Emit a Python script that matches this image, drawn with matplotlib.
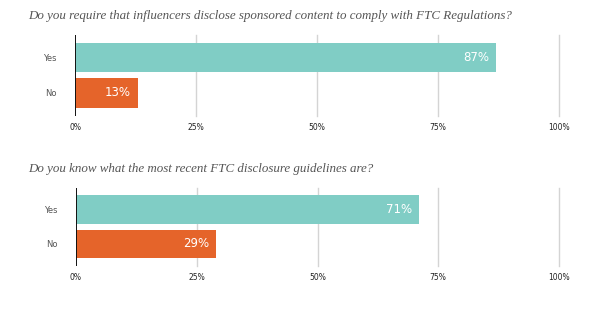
import matplotlib
matplotlib.use("Agg")
from matplotlib import pyplot as plt

# survey answers
categories = ['Yes', 'No']
titles = ['Do you require that influencers disclose sponsored content to comply with FTC Regulations?',
          'Do you know what the most recent FTC disclosure guidelines are?']
values_q1 = [87, 13]
values_q2 = [71, 29]
tick_values = [0, 25, 50, 75, 100]
tick_labels = ['0%', '25%', '50%', '75%', '100%']

colors = ['#80cdc5', '#e5642a']
grid_col = '#d4d4d4'
text_col = '#555555'

W, H = 606, 328
fig = plt.figure(figsize=(W / 100, H / 100), dpi=100)

# axes boxes in pixels: left, top, right, bottom
boxes = [(75, 35, 559, 116), (76, 188, 559, 266)]
title_y = [16, 169]

for (l, t, r, b), vals, title, ty in zip(boxes, [values_q1, values_q2], titles, title_y):
    ax = fig.add_axes([l / W, 1 - b / H, (r - l) / W, (b - t) / H])
    ypos = [1, 0]
    ax.barh(ypos, vals, height=0.83, color=colors, zorder=2)
    for y, v in zip(ypos, vals):
        ax.text(v - 1.5, y, f'{v}%', ha='right', va='center', color='white',
                fontsize=8.5, zorder=3)
    ax.set_xlim(0, 100)
    ax.set_ylim(-0.65, 1.63)
    for x in tick_values[1:]:
        ax.axvline(x, color=grid_col, lw=1, zorder=1, clip_on=False)
    ax.axvline(0, color='#111111', lw=1.4, zorder=4)
    for s in ax.spines.values():
        s.set_visible(False)
    ax.set_xticks(tick_values)
    ax.set_xticklabels(tick_labels, fontsize=5.5, color='#222222')
    ax.set_yticks(ypos)
    ax.set_yticklabels(categories, fontsize=6, color=text_col)
    ax.tick_params(axis='both', length=0)
    ax.tick_params(axis='x', pad=5)
    ax.tick_params(axis='y', pad=13)
    fig.text(28 / W, 1 - ty / H, title, ha='left', va='center', fontsize=9.4,
             style='italic', family='Liberation Serif', color=text_col)

plt.savefig('out.png', dpi=100)
